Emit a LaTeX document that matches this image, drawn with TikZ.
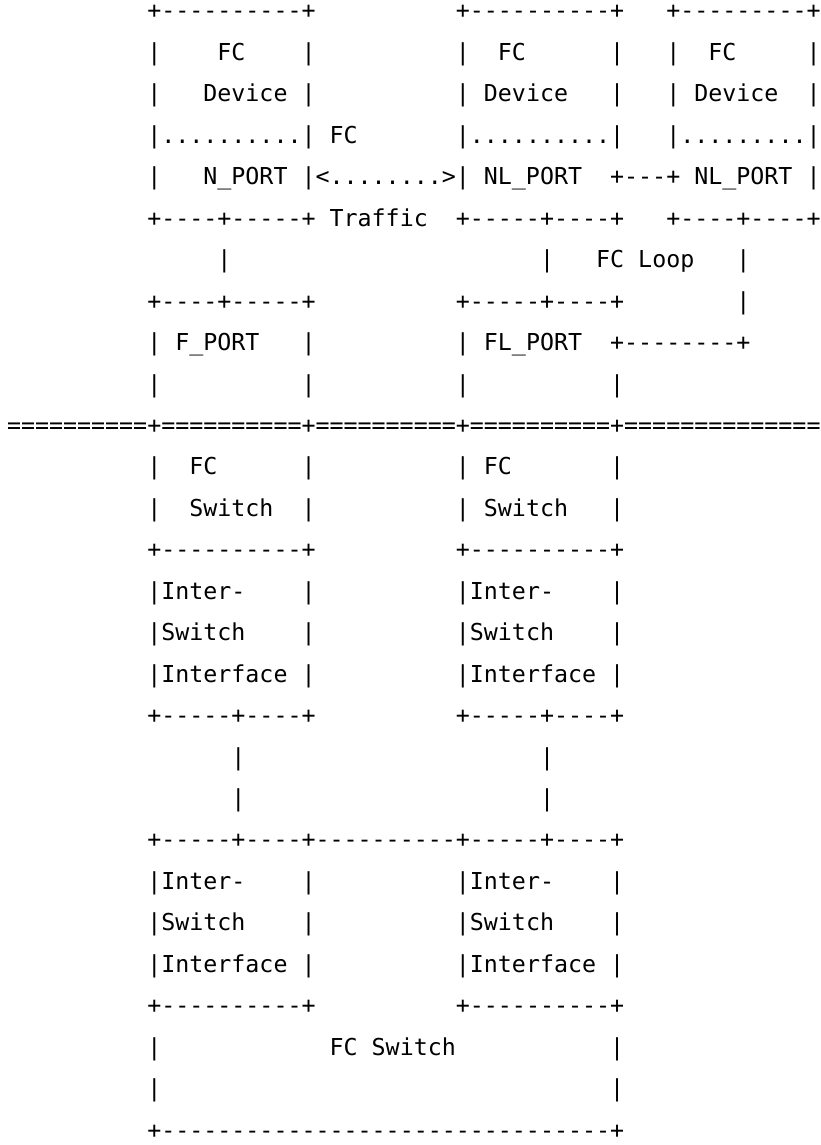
\documentclass[tikz,border=0pt]{standalone}
\usepackage{fontspec}
\setmonofont{DejaVu Sans Mono}
\tikzset{
  ascii/.style={anchor=base west, inner sep=0pt, outer sep=0pt,
    font=\ttfamily\fontsize{23.3pt}{28pt}\selectfont, text=black}
}
\newcommand\asciirow[2]{\node[ascii] (r#1) at (7,{1145-12-(#1-1)*41.45-7}) {#2};}
\begin{document}
\begin{tikzpicture}[x=1pt,y=1pt]
\useasboundingbox[fill=white] (0,0) rectangle (821,1145);
\asciirow{1}{~~~~~~~~~~+----------+~~~~~~~~~~+----------+~~~+---------+}
\asciirow{2}{~~~~~~~~~~|~~~~FC~~~~|~~~~~~~~~~|~~FC~~~~~~|~~~|~~FC~~~~~|}
\asciirow{3}{~~~~~~~~~~|~~~Device~|~~~~~~~~~~|~Device~~~|~~~|~Device~~|}
\asciirow{4}{~~~~~~~~~~|..........|~FC~~~~~~~|..........|~~~|.........|}
\asciirow{5}{~~~~~~~~~~|~~~N\_PORT~|<........>|~NL\_PORT~~+---+~NL\_PORT~|}
\asciirow{6}{~~~~~~~~~~+----+-----+~Traffic~~+-----+----+~~~+----+----+}
\asciirow{7}{~~~~~~~~~~~~~~~|~~~~~~~~~~~~~~~~~~~~~~|~~~FC~Loop~~~|}
\asciirow{8}{~~~~~~~~~~+----+-----+~~~~~~~~~~+-----+----+~~~~~~~~|}
\asciirow{9}{~~~~~~~~~~|~F\_PORT~~~|~~~~~~~~~~|~FL\_PORT~~+--------+}
\asciirow{10}{~~~~~~~~~~|~~~~~~~~~~|~~~~~~~~~~|~~~~~~~~~~|}
\asciirow{11}{==========+==========+==========+==========+==============}
\asciirow{12}{~~~~~~~~~~|~~FC~~~~~~|~~~~~~~~~~|~FC~~~~~~~|}
\asciirow{13}{~~~~~~~~~~|~~Switch~~|~~~~~~~~~~|~Switch~~~|}
\asciirow{14}{~~~~~~~~~~+----------+~~~~~~~~~~+----------+}
\asciirow{15}{~~~~~~~~~~|Inter-~~~~|~~~~~~~~~~|Inter-~~~~|}
\asciirow{16}{~~~~~~~~~~|Switch~~~~|~~~~~~~~~~|Switch~~~~|}
\asciirow{17}{~~~~~~~~~~|Interface~|~~~~~~~~~~|Interface~|}
\asciirow{18}{~~~~~~~~~~+-----+----+~~~~~~~~~~+-----+----+}
\asciirow{19}{~~~~~~~~~~~~~~~~|~~~~~~~~~~~~~~~~~~~~~|}
\asciirow{20}{~~~~~~~~~~~~~~~~|~~~~~~~~~~~~~~~~~~~~~|}
\asciirow{21}{~~~~~~~~~~+-----+----+----------+-----+----+}
\asciirow{22}{~~~~~~~~~~|Inter-~~~~|~~~~~~~~~~|Inter-~~~~|}
\asciirow{23}{~~~~~~~~~~|Switch~~~~|~~~~~~~~~~|Switch~~~~|}
\asciirow{24}{~~~~~~~~~~|Interface~|~~~~~~~~~~|Interface~|}
\asciirow{25}{~~~~~~~~~~+----------+~~~~~~~~~~+----------+}
\asciirow{26}{~~~~~~~~~~|~~~~~~~~~~~~FC~Switch~~~~~~~~~~~|}
\asciirow{27}{~~~~~~~~~~|~~~~~~~~~~~~~~~~~~~~~~~~~~~~~~~~|}
\asciirow{28}{~~~~~~~~~~+--------------------------------+}
\end{tikzpicture}
\end{document}
